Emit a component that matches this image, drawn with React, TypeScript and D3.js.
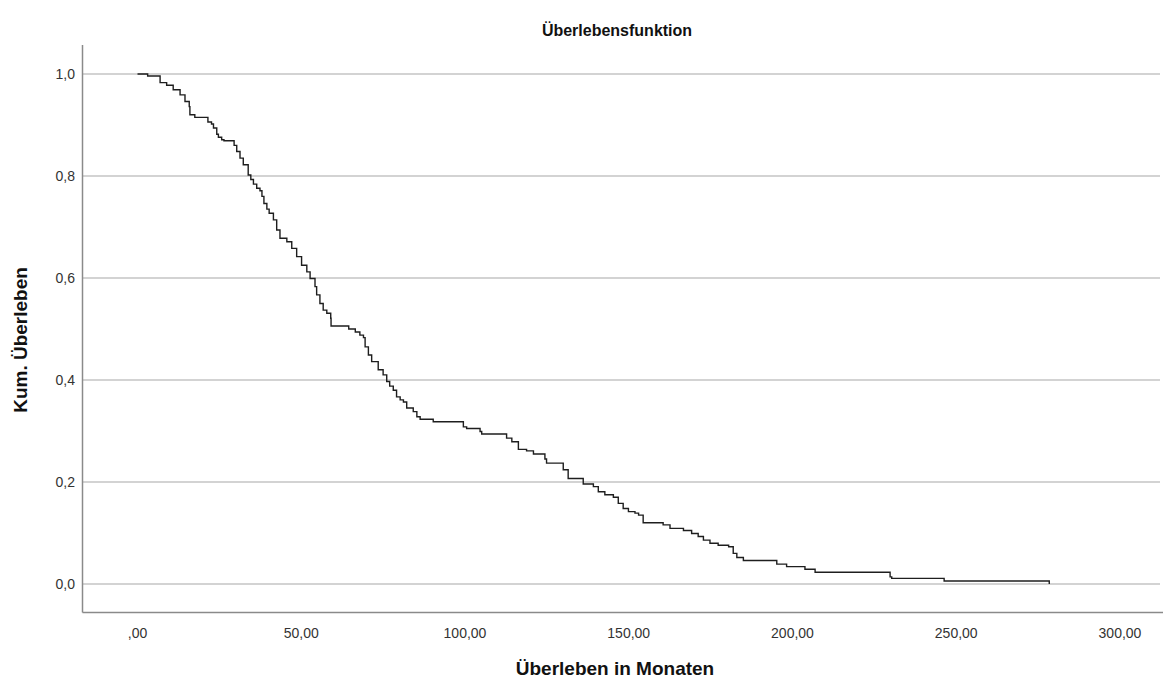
import React from "react";
import * as d3 from "d3";

// Kaplan–Meier estimate: month of each step and the survival level after it
const eventMonths = [
  0, 3.1, 6.9, 8.9, 10.9, 13.0, 14.5, 15.8, 16.0, 17.5, 21.5, 22.6, 23.2, 24.2, 24.7, 25.7, 26.4,
  29.5, 30.3, 31.3, 32.3, 33.8, 34.6, 35.4, 36.4, 37.4, 38.0, 38.6, 39.5, 40.2, 41.5, 42.5, 43.5,
  45.6, 47.1, 48.6, 50.1, 51.7, 52.7, 54.2, 54.7, 55.7, 56.7, 57.8, 59.0, 59.1, 64.5, 66.5, 67.9,
  69.0, 69.5, 70.5, 71.5, 73.5, 75.0, 76.1, 77.0, 78.1, 79.1, 80.2, 81.2, 82.2, 84.2, 85.3, 86.3,
  90.3, 99.5, 100.5, 104.6, 105.1, 112.7, 114.3, 116.3, 118.8, 120.9, 124.4, 124.9, 130.0, 131.5,
  136.1, 139.2, 140.7, 142.7, 145.3, 146.8, 148.3, 149.9, 151.9, 153.0, 154.4, 160.5, 162.6, 166.7,
  169.2, 171.2, 172.8, 174.8, 177.3, 180.5, 181.9, 183.0, 185.0, 195.2, 198.2, 203.8, 206.9, 229.8,
  230.3, 246.3, 278.4,
];
const survival = [
  1.0, 0.996, 0.983, 0.978, 0.969, 0.959, 0.946, 0.936, 0.92, 0.915, 0.906, 0.902, 0.894, 0.882,
  0.876, 0.871, 0.869, 0.86, 0.848, 0.835, 0.822, 0.802, 0.793, 0.784, 0.776, 0.771, 0.76, 0.746,
  0.735, 0.727, 0.714, 0.694, 0.678, 0.671, 0.658, 0.642, 0.625, 0.612, 0.599, 0.583, 0.567, 0.55,
  0.537, 0.531, 0.521, 0.506, 0.5, 0.494, 0.488, 0.483, 0.465, 0.449, 0.436, 0.42, 0.41, 0.397,
  0.388, 0.38, 0.367, 0.361, 0.357, 0.345, 0.338, 0.328, 0.323, 0.318, 0.308, 0.305, 0.299, 0.294,
  0.286, 0.279, 0.264, 0.261, 0.255, 0.245, 0.237, 0.224, 0.207, 0.196, 0.191, 0.181, 0.175, 0.17,
  0.158, 0.148, 0.142, 0.139, 0.135, 0.12, 0.116, 0.109, 0.105, 0.099, 0.093, 0.086, 0.08, 0.076,
  0.073, 0.06, 0.052, 0.046, 0.039, 0.034, 0.029, 0.023, 0.014, 0.011, 0.006, 0.0,
];

const xTickValues = [0, 50, 100, 150, 200, 250, 300];
const xTickLabels = [",00", "50,00", "100,00", "150,00", "200,00", "250,00", "300,00"];
const yTickValues = [0, 0.2, 0.4, 0.6, 0.8, 1.0];
const yTickLabels = ["0,0", "0,2", "0,4", "0,6", "0,8", "1,0"];

const title = "Überlebensfunktion";
const xTitle = "Überleben in Monaten";
const yTitle = "Kum. Überleben";

const W = 1163;
const H = 682;
const FONT = "'Liberation Sans', Arial, sans-serif";

export default function App() {
  const x = d3.scaleLinear().domain([0, 300]).range([137.5, 1120]);
  const y = d3.scaleLinear().domain([0, 1]).range([584, 74]);
  const axisLeft = 82.5;
  const axisBottom = 612.5;
  const plotTop = 45;
  const plotRight = W;

  const pts: [number, number][] = eventMonths.map((t, i) => [t, survival[i]]);
  const line = d3
    .line<[number, number]>()
    .x((d) => x(d[0]))
    .y((d) => y(d[1]))
    .curve(d3.curveStepAfter);

  return (
    <svg
      width={W}
      height={H}
      style={{ position: "absolute", left: 0, top: 0, background: "#fff" }}
      fontFamily={FONT}
    >
      <rect x={0} y={0} width={W} height={H} fill="#fff" />
      {/* horizontal gridlines */}
      {yTickValues.map((v) => (
        <line
          key={"g" + v}
          x1={axisLeft}
          x2={plotRight - 3}
          y1={y(v)}
          y2={y(v)}
          stroke="#c4c4c4"
          strokeWidth={1.5}
        />
      ))}
      {/* axes */}
      <line x1={axisLeft} x2={axisLeft} y1={plotTop} y2={axisBottom} stroke="#8a8a8a" strokeWidth={1.5} />
      <line x1={axisLeft} x2={plotRight} y1={axisBottom} y2={axisBottom} stroke="#8a8a8a" strokeWidth={1.5} />

      {/* survival curve */}
      <path d={line(pts) || ""} fill="none" stroke="#1e1e1e" strokeWidth={1.4} />

      {/* tick labels */}
      {yTickValues.map((v, i) => (
        <text
          key={"yl" + v}
          x={75}
          y={y(v)}
          dy="0.36em"
          textAnchor="end"
          fontSize={14}
          fill="#333"
        >
          {yTickLabels[i]}
        </text>
      ))}
      {xTickValues.map((v, i) => (
        <text
          key={"xl" + v}
          x={x(v)}
          y={638}
          textAnchor="middle"
          fontSize={14}
          fill="#333"
        >
          {xTickLabels[i]}
        </text>
      ))}

      {/* titles */}
      <text x={617} y={36} textAnchor="middle" fontSize={16} fontWeight="bold" fill="#111">
        {title}
      </text>
      <text x={615} y={675} textAnchor="middle" fontSize={19} fontWeight="bold" fill="#111">
        {xTitle}
      </text>
      <text
        transform={`translate(27,340) rotate(-90)`}
        textAnchor="middle"
        fontSize={19}
        fontWeight="bold"
        fill="#111"
      >
        {yTitle}
      </text>
    </svg>
  );
}
